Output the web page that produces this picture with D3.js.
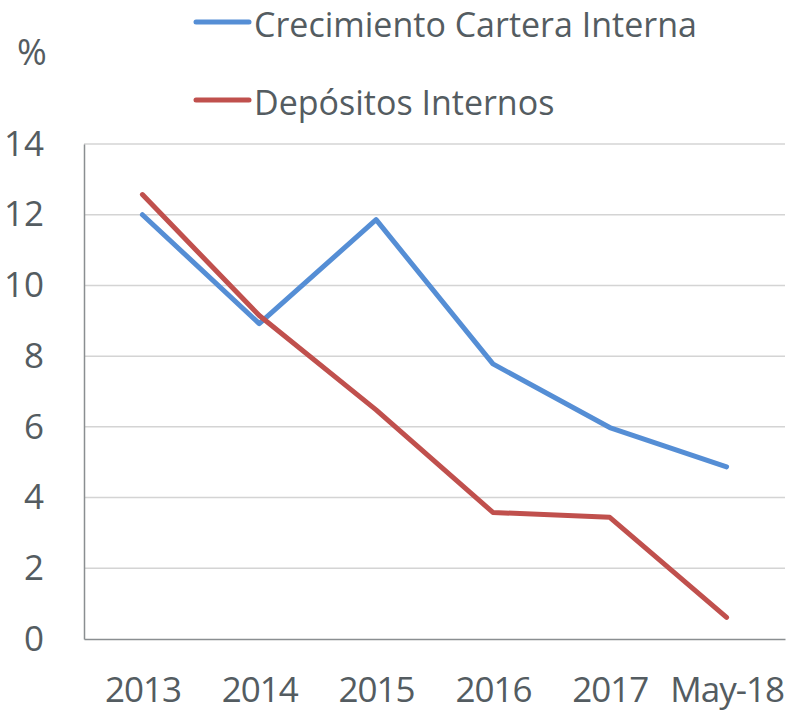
<!DOCTYPE html>
<html>
<head>
<meta charset="utf-8">
<script src="https://cdn.jsdelivr.net/npm/d3@7"></script>
<style>
  body { margin: 0; background: #fff; }
  text { font-family: "Open Sans", sans-serif; fill: #545c61; }
</style>
</head>
<body>
<div id="chart"></div>
<script>
const categories = ["2013", "2014", "2015", "2016", "2017", "May-18"];
const cartera = [12.0, 8.92, 11.86, 7.78, 5.98, 4.87];
const depositos = [12.57, 9.15, 6.48, 3.58, 3.44, 0.61];
const yTicks = [0, 2, 4, 6, 8, 10, 12, 14];

const series = [
  { name: "Crecimiento Cartera Interna", values: cartera, color: "#558ed5" },
  { name: "Depósitos Internos", values: depositos, color: "#c0504d" }
];

const width = 788;
const height = 716;
const margin = { top: 144, right: 3, bottom: 77, left: 84 };

const svg = d3.select("#chart")
  .append("svg")
  .attr("width", width)
  .attr("height", height);

const x = d3.scalePoint()
  .domain(categories)
  .range([margin.left, width - margin.right])
  .padding(0.5);

const y = d3.scaleLinear()
  .domain([0, 14])
  .range([height - margin.bottom, margin.top]);

// gridlines
svg.append("g")
  .selectAll("line")
  .data(yTicks.filter(d => d > 0))
  .enter().append("line")
  .attr("x1", margin.left)
  .attr("x2", width - margin.right)
  .attr("y1", d => y(d))
  .attr("y2", d => y(d))
  .attr("stroke", "#d4d4d4")
  .attr("stroke-width", 1.5);

// axes
const yAxis = svg.append("g")
  .attr("transform", `translate(${margin.left},0)`)
  .call(d3.axisLeft(y).tickValues(yTicks).tickSize(0).tickPadding(40));
yAxis.select(".domain").attr("stroke", "#8a8e91").attr("stroke-width", 1.5);
yAxis.selectAll("text")
  .style("font-size", "35px")
  .style("font-family", "'Open Sans', sans-serif")
  .attr("fill", "#545c61");

const xAxis = svg.append("g")
  .attr("transform", `translate(0,${height - margin.bottom})`)
  .call(d3.axisBottom(x).tickSize(0).tickPadding(38));
xAxis.select(".domain").attr("stroke", "#8a8e91").attr("stroke-width", 1.5);
xAxis.selectAll("text")
  .style("font-size", "35px")
  .style("font-family", "'Open Sans', sans-serif")
  .attr("fill", "#545c61")
  .attr("letter-spacing", "-1px");

// lines
const line = d3.line()
  .x((d, i) => x(categories[i]))
  .y(d => y(d));

svg.selectAll(".series")
  .data(series)
  .enter().append("path")
  .attr("class", "series")
  .attr("d", d => line(d.values))
  .attr("fill", "none")
  .attr("stroke", d => d.color)
  .attr("stroke-width", 5)
  .attr("stroke-linejoin", "round")
  .attr("stroke-linecap", "round");

// unit label
svg.append("text")
  .attr("x", 32)
  .attr("y", 65)
  .attr("text-anchor", "middle")
  .style("font-size", "36px")
  .text("%");

// legend
const legend = svg.selectAll(".legend")
  .data(series)
  .enter().append("g")
  .attr("class", "legend")
  .attr("transform", (d, i) => `translate(196,${22 + i * 78})`);

legend.append("line")
  .attr("x1", 0)
  .attr("x2", 53)
  .attr("stroke", d => d.color)
  .attr("stroke-width", 5)
  .attr("stroke-linecap", "round");

legend.append("text")
  .attr("x", 58)
  .attr("y", 15)
  .style("font-size", "34px")
  .text(d => d.name);
</script>
</body>
</html>
